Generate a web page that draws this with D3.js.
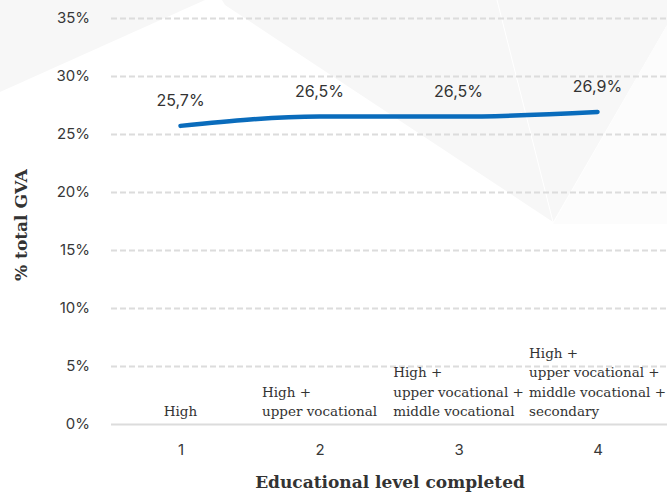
<!DOCTYPE html>
<html lang="en">
  <head>
    <meta charset="UTF-8" />
    <title>% total GVA by educational level</title>
    <style>
      body { margin: 0; background: #fff; }
      .chart { width: 667px; height: 495px; }
    </style>
  </head>
  <body>
    <div class="chart"></div>
    <script src="https://d3js.org/d3.v7.min.js"></script>
    <script>
      const width = 667;
      const height = 495;

      // data
      const categories = [1, 2, 3, 4];
      const values = [25.7, 26.5, 26.5, 26.9];
      const yTicks = [0, 5, 10, 15, 20, 25, 30, 35];
      const levelLabels = [
        ["High"],
        ["High +", "upper vocational"],
        ["High +", "upper vocational +", "middle vocational"],
        ["High +", "upper vocational +", "middle vocational +", "secondary"],
      ];

      const sans = "Inter, 'Open Sans', sans-serif";
      const slab = "'DejaVu Serif', 'Liberation Serif', serif";

      const svg = d3
        .select(".chart")
        .append("svg")
        .attr("width", width)
        .attr("height", height);

      // faint background shapes
      const bg = svg.append("g");
      bg.append("polygon")
        .attr("points", "0,0 205,0 0,92")
        .attr("fill", "#f7f7f7");
      bg.append("polygon")
        .attr("points", "222,0 667,0 667,25 553,222 225,5")
        .attr("fill", "#f7f7f7");
      bg.append("polygon")
        .attr("points", "667,25 553,224 667,224")
        .attr("fill", "#fcfcfc");
      bg.append("line")
        .attr("x1", 497).attr("y1", 0)
        .attr("x2", 553).attr("y2", 222)
        .attr("stroke", "#fff")
        .attr("stroke-width", 1);

      const x = d3.scalePoint().domain(categories).range([111, 667]).padding(0.5);
      const y = d3.scaleLinear().domain([0, 35]).range([424, 18]);

      // y axis: grid + labels
      const yAxis = svg
        .append("g")
        .attr("transform", "translate(111,0)")
        .call(d3.axisLeft(y).tickValues(yTicks).tickSize(-(667 - 111)).tickPadding(21).tickFormat((d) => d + "%"));
      yAxis.select(".domain").remove();
      yAxis.selectAll(".tick line")
        .attr("stroke", "#dcdcdc")
        .attr("stroke-width", 2)
        .attr("stroke-dasharray", (d) => (d === 0 ? null : "6,3"));
      yAxis.selectAll(".tick text")
        .style("font-family", sans)
        .style("font-size", "15px")
        .attr("fill", "#383838");

      // x axis labels
      const xAxis = svg
        .append("g")
        .attr("transform", "translate(0,424)")
        .call(d3.axisBottom(x).tickSize(0).tickPadding(20));
      xAxis.select(".domain").remove();
      xAxis.selectAll(".tick text")
        .style("font-family", sans)
        .style("font-size", "15px")
        .attr("fill", "#383838");

      // level descriptions, block centred, lines left aligned
      levelLabels.forEach((lines, i) => {
        const g = svg.append("g");
        const n = lines.length;
        const texts = g
          .selectAll("text")
          .data(lines)
          .join("text")
          .attr("y", (d, j) => 416 - (n - 1 - j) * 19.3)
          .style("font-family", slab)
          .style("font-size", "13.5px")
          .attr("fill", "#333")
          .text((d) => d);
        const maxW = d3.max(texts.nodes(), (t) => t.getComputedTextLength());
        texts.attr("x", x(categories[i]) - maxW / 2);
      });

      // line
      const line = d3
        .line()
        .x((d, i) => x(categories[i]))
        .y((d) => y(d))
        .curve(d3.curveMonotoneX);

      svg.append("path")
        .datum(values)
        .attr("d", line)
        .attr("fill", "none")
        .attr("stroke", "#0a6cbc")
        .attr("stroke-width", 4.5)
        .attr("stroke-linecap", "round");

      // value labels
      svg.append("g")
        .selectAll("text")
        .data(values)
        .join("text")
        .attr("x", (d, i) => x(categories[i]))
        .attr("y", (d) => y(d) - 20)
        .attr("text-anchor", "middle")
        .style("font-family", sans)
        .style("font-size", "16px")
        .attr("fill", "#333")
        .text((d) => d3.format(".1f")(d).replace(".", ",") + "%");

      // axis titles
      svg.append("text")
        .attr("x", 390)
        .attr("y", 488)
        .attr("text-anchor", "middle")
        .style("font-family", slab)
        .style("font-size", "17px")
        .style("font-weight", "bold")
        .attr("fill", "#333")
        .text("Educational level completed");

      svg.append("text")
        .attr("transform", "translate(27,225) rotate(-90)")
        .attr("text-anchor", "middle")
        .style("font-family", slab)
        .style("font-size", "17px")
        .style("font-weight", "bold")
        .attr("fill", "#333")
        .text("% total GVA");
    </script>
  </body>
</html>
